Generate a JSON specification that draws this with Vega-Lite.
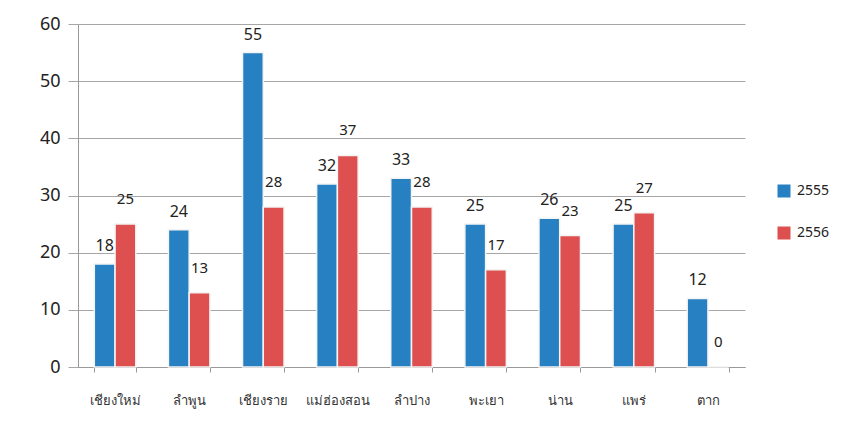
{
  "$schema": "https://vega.github.io/schema/vega-lite/v6.json",
  "autosize": "none",
  "width": 667,
  "height": 343,
  "padding": {"left": 78, "top": 24, "right": 109, "bottom": 54},
  "background": "white",
  "config": {
    "view": {"stroke": null},
    "font": "Noto Sans"
  },
  "data": {
    "values": [
      {"province": "เชียงใหม่", "year": "2555", "value": 18},
      {"province": "เชียงใหม่", "year": "2556", "value": 25},
      {"province": "ลำพูน", "year": "2555", "value": 24},
      {"province": "ลำพูน", "year": "2556", "value": 13},
      {"province": "เชียงราย", "year": "2555", "value": 55},
      {"province": "เชียงราย", "year": "2556", "value": 28},
      {"province": "แม่ฮ่องสอน", "year": "2555", "value": 32},
      {"province": "แม่ฮ่องสอน", "year": "2556", "value": 37},
      {"province": "ลำปาง", "year": "2555", "value": 33},
      {"province": "ลำปาง", "year": "2556", "value": 28},
      {"province": "พะเยา", "year": "2555", "value": 25},
      {"province": "พะเยา", "year": "2556", "value": 17},
      {"province": "น่าน", "year": "2555", "value": 26},
      {"province": "น่าน", "year": "2556", "value": 23},
      {"province": "แพร่", "year": "2555", "value": 25},
      {"province": "แพร่", "year": "2556", "value": 27},
      {"province": "ตาก", "year": "2555", "value": 12},
      {"province": "ตาก", "year": "2556", "value": 0}
    ]
  },
  "encoding": {
    "x": {
      "field": "province",
      "type": "nominal",
      "sort": null,
      "scale": {"paddingInner": 0.44, "paddingOuter": 0.22},
      "axis": {
        "title": null,
        "labelAngle": 0,
        "labelFontSize": 13,
        "labelColor": "#333333",
        "labelPadding": 22,
        "domainColor": "#999999",
        "tickColor": "#999999",
        "tickSize": 5,
        "tickBand": "extent",
        "grid": false
      }
    },
    "xOffset": {"field": "year", "type": "nominal"},
    "y": {
      "field": "value",
      "type": "quantitative",
      "scale": {"domain": [0, 60], "nice": false},
      "axis": {
        "title": null,
        "values": [0, 10, 20, 30, 40, 50, 60],
        "labelOverlap": false,
        "labelFontSize": 18,
        "labelColor": "#222222",
        "labelPadding": 8,
        "tickSize": 10,
        "tickColor": "#a6a6a6",
        "domainColor": "#999999",
        "gridColor": "#a6a6a6",
        "grid": true
      }
    }
  },
  "layer": [
    {
      "mark": {"type": "bar", "stroke": "#f4f4f4", "strokeWidth": 1.5},
      "encoding": {
        "color": {
          "field": "year",
          "type": "nominal",
          "scale": {"domain": ["2555", "2556"], "range": ["#2680c2", "#de5050"]},
          "legend": {
            "title": null,
            "orient": "none",
            "legendX": 699,
            "legendY": 160,
            "symbolType": "square",
            "symbolSize": 169,
            "symbolStrokeWidth": 0,
            "labelFontSize": 14,
            "labelColor": "#222222",
            "labelOffset": 6,
            "rowPadding": 28
          }
        }
      }
    },
    {
      "transform": [{"filter": "datum.year == '2555'"}],
      "mark": {"type": "text", "baseline": "middle", "dy": -18, "fontSize": 16, "color": "#222222"},
      "encoding": {"text": {"field": "value", "type": "quantitative"}}
    },
    {
      "transform": [{"filter": "datum.year == '2556'"}],
      "mark": {"type": "text", "baseline": "middle", "dy": -25, "fontSize": 15, "color": "#222222"},
      "encoding": {"text": {"field": "value", "type": "quantitative"}}
    }
  ]
}
